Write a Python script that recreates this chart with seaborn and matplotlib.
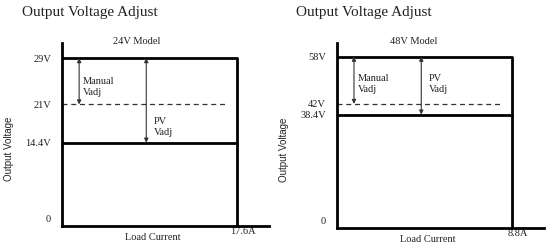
import matplotlib
matplotlib.use("Agg")
import matplotlib.pyplot as plt
import matplotlib.transforms as mtransforms
import seaborn as sns
import pandas as pd

sns.set_style("white")
plt.rcParams['font.family'] = ['Liberation Serif', 'DejaVu Serif']

# ---- data ----
models = ["24V Model", "48V Model"]
v_max = [29, 58]            # upper output voltage
v_manual_min = [21, 42]     # manual Vadj lower bound (dashed)
v_pv_min = [14.4, 38.4]     # PV Vadj lower bound
i_max = [17.6, 8.8]         # rated load current
v_labels = [["29V", "21V", "14.4V", "0"], ["58V", "42V", "38.4V", "0"]]
i_labels = ["17.6A", "8.8A"]

# ---- layout (fractions of the axes) ----
xlim_f = 1.18
ylim_f = [1.09, 1.08]
manual_x_f = [0.097, 0.096]
pv_x_f = [0.48, 0.48]
dash_end_f = [0.943, 0.93]

fig = plt.figure(figsize=(5.5, 2.43), dpi=100)
axes_pos = [[0.113, 0.07, 0.376, 0.753], [0.613, 0.062, 0.376, 0.761]]
title_x = [0.04, 0.538]
sub_x = [0.36, 0.37]

txt_col = "#222222"
fs = 7.5
for k in range(2):
    ax = fig.add_axes(axes_pos[k])
    I, V = i_max[k], v_max[k]
    # outline: top line + vertical drop at rated current
    df_box = pd.DataFrame({"x": [0, I, I], "y": [V, V, 0]})
    sns.lineplot(data=df_box, x="x", y="y", sort=False, estimator=None,
                 color="black", lw=2, ax=ax)
    df_pv = pd.DataFrame({"x": [0, I], "y": [v_pv_min[k]] * 2})
    sns.lineplot(data=df_pv, x="x", y="y", estimator=None, color="black", lw=2, ax=ax)
    df_dash = pd.DataFrame({"x": [0, I * dash_end_f[k]], "y": [v_manual_min[k]] * 2})
    sns.lineplot(data=df_dash, x="x", y="y", estimator=None, color="#333333", lw=0.9,
                 linestyle=(0, (4, 3)), ax=ax)
    # arrows
    mx = I * manual_x_f[k]
    px = I * pv_x_f[k]
    ax.annotate("", xy=(mx, v_manual_min[k]), xytext=(mx, V),
                arrowprops=dict(arrowstyle="<|-|>", color="#333333", lw=0.8,
                                mutation_scale=6, shrinkA=0, shrinkB=0))
    ax.annotate("", xy=(px, v_pv_min[k]), xytext=(px, V),
                arrowprops=dict(arrowstyle="<|-|>", color="#333333", lw=0.8,
                                mutation_scale=6, shrinkA=0, shrinkB=0))
    ax.text(mx + I * 0.02, V * (0.89 if k == 0 else 0.9), "Manual\nVadj", fontsize=fs,
            color=txt_col, va="top", ha="left", linespacing=1.35)
    ax.text(px + I * 0.045, V * (0.65 if k == 0 else 0.9), "PV\nVadj", fontsize=fs,
            color=txt_col, va="top", ha="left", linespacing=1.35)

    ax.set_xlim(0, I * xlim_f)
    ax.set_ylim(0, V * ylim_f[k])
    ax.set_yticks([V, v_manual_min[k], v_pv_min[k], 0])
    ax.set_yticklabels(v_labels[k], fontsize=fs, color=txt_col)
    ax.set_xticks([I * 1.03])
    ax.set_xticklabels([i_labels[k]], fontsize=fs, color=txt_col)
    ax.tick_params(axis="both", length=0, pad=8)
    ax.tick_params(axis="x", pad=1)
    # lift the "0" label slightly above the axis line
    zero_lab = ax.get_yticklabels()[3]
    zero_lab.set_transform(zero_lab.get_transform() +
                           mtransforms.ScaledTranslation(0, 7 / 100, fig.dpi_scale_trans))
    for s in ["top", "right"]:
        ax.spines[s].set_visible(False)
    for s in ["left", "bottom"]:
        ax.spines[s].set_linewidth(2)
        ax.spines[s].set_color("black")
    ax.set_xlabel("Load Current", fontsize=fs, color=txt_col)
    ax.set_ylabel("Output Voltage", fontsize=7, color=txt_col,
                  family=["Liberation Sans", "DejaVu Sans"])
    ax.yaxis.set_label_coords(-0.235, 0.42)
    ax.xaxis.set_label_coords(0.44, -0.04)
    ax.set_title(models[k], fontsize=fs, color=txt_col, pad=-1, x=sub_x[k])
    fig.text(title_x[k], 0.95, "Output Voltage Adjust", fontsize=11,
             color=txt_col, ha="left", va="center")

fig.savefig("out.png", dpi=100)
